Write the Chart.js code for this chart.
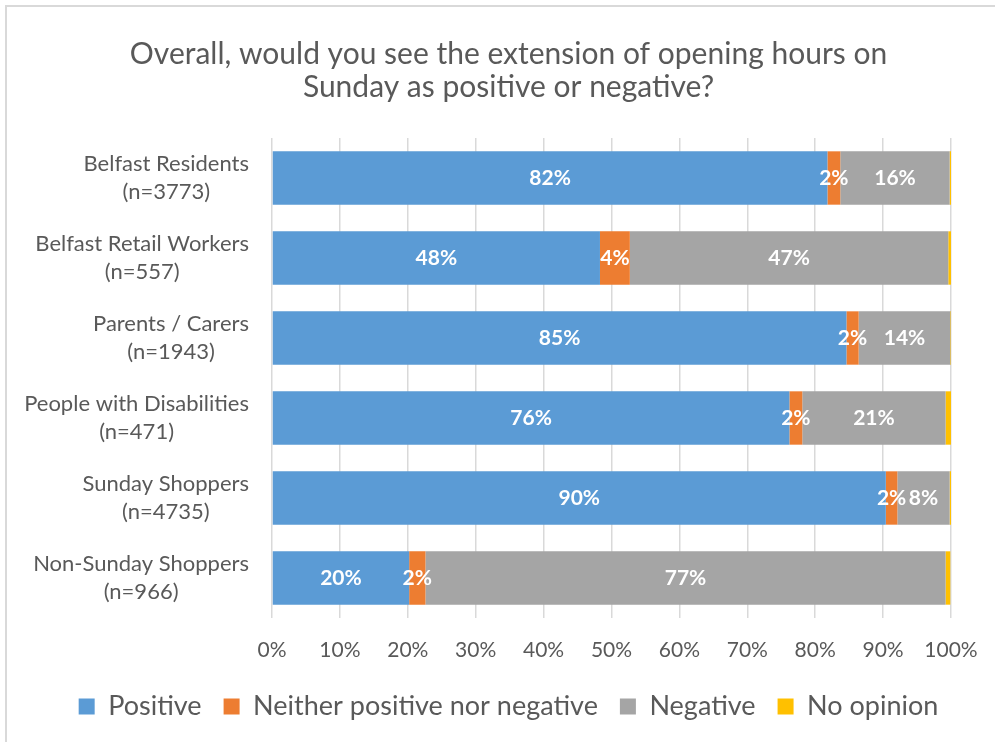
<!DOCTYPE html>
<html>
<head>
<meta charset="utf-8">
<script src="https://cdn.jsdelivr.net/npm/chart.js@4.4.1/dist/chart.umd.min.js"></script>
<style>
  html, body { margin: 0; padding: 0; background: #fff; }
  #wrap { width: 995px; height: 742px; }
</style>
</head>
<body>
<div id="wrap"><canvas id="sundayChart" width="995" height="742"></canvas></div>
<script>
/* Data */
const categories = [
  ['Belfast Residents', '(n=3773)'],
  ['Belfast Retail Workers', '(n=557)'],
  ['Parents / Carers', '(n=1943)'],
  ['People with Disabilities', '(n=471)'],
  ['Sunday Shoppers', '(n=4735)'],
  ['Non-Sunday Shoppers', '(n=966)']
];
const positive = [81.8, 48.3, 84.6, 76.2, 90.4, 20.2];
const neither = [1.9, 4.4, 1.8, 1.9, 1.7, 2.4];
const negative = [16.1, 46.9, 13.5, 21.1, 7.7, 76.6];
const noOpinion = [0.2, 0.4, 0.1, 0.8, 0.2, 0.7];
const seriesNames = ['Positive', 'Neither positive nor negative', 'Negative', 'No opinion'];
const xTicks = [0, 10, 20, 30, 40, 50, 60, 70, 80, 90, 100];

const FONT = 'Lato, "Open Sans", sans-serif';
const TEXT_GRAY = '#595959';

// Get the canvas element
const canvasSunday = document.getElementById('sundayChart');
const ctxSunday = canvasSunday.getContext('2d');

// white bold percentages in the middle of each segment (not "No opinion")
const barLabels = {
  id: 'barLabels',
  afterDatasetsDraw(chart) {
    const ctx = chart.ctx;
    ctx.save();
    ctx.font = 'bold 21px ' + FONT;
    ctx.fillStyle = '#ffffff';
    ctx.textAlign = 'center';
    ctx.textBaseline = 'middle';
    chart.data.datasets.forEach((dataset, di) => {
      if (di > 2) return;
      const meta = chart.getDatasetMeta(di);
      meta.data.forEach((bar, i) => {
        const cx = (bar.x + bar.base) / 2;
        ctx.fillText(Math.round(dataset.data[i]) + '%', cx, bar.y);
      });
    });
    ctx.restore();
  }
};

// two-line category labels, block right-aligned, lines centred in the block
const categoryLabels = {
  id: 'categoryLabels',
  afterDraw(chart) {
    const ctx = chart.ctx;
    const yScale = chart.scales.y;
    const right = chart.chartArea.left - 23;
    ctx.save();
    ctx.font = '22px ' + FONT;
    ctx.fillStyle = TEXT_GRAY;
    ctx.textAlign = 'center';
    ctx.textBaseline = 'middle';
    categories.forEach((lines, i) => {
      const y = yScale.getPixelForValue(i);
      const blockWidth = Math.max(...lines.map(l => ctx.measureText(l).width));
      const cx = right - blockWidth / 2;
      ctx.fillText(lines[0], cx, y - 14);
      ctx.fillText(lines[1], cx, y + 14);
    });
    ctx.restore();
  }
};

// light frame of the chart
const chartFrame = {
  id: 'chartFrame',
  beforeDraw(chart) {
    const ctx = chart.ctx;
    ctx.save();
    ctx.strokeStyle = '#d9d9d9';
    ctx.lineWidth = 2;
    ctx.strokeRect(6, 6, 1200, 1200);
    ctx.restore();
  }
};

const sundayChart = new Chart(ctxSunday, {
  type: 'bar',
  data: {
    labels: categories,
    datasets: [
      { label: seriesNames[0], data: positive, backgroundColor: '#5B9BD5' },
      { label: seriesNames[1], data: neither, backgroundColor: '#ED7D31' },
      { label: seriesNames[2], data: negative, backgroundColor: '#A5A5A5' },
      { label: seriesNames[3], data: noOpinion, backgroundColor: '#FFC000' }
    ]
  },
  options: {
    indexAxis: 'y',
    responsive: false,
    animation: false,
    datasets: {
      bar: {
        categoryPercentage: 1,
        barPercentage: 0.667,
        borderWidth: 0
      }
    },
    layout: {
      padding: { top: 22, left: 22, right: 0, bottom: 12 }
    },
    scales: {
      x: {
        stacked: true,
        min: 0,
        max: 100,
        afterBuildTicks: (scale) => {
          scale.ticks = xTicks.map(v => ({ value: v }));
        },
        ticks: {
          callback: (v) => v + '%',
          color: TEXT_GRAY,
          font: { family: FONT, size: 21 },
          padding: 20,
          maxRotation: 0
        },
        grid: {
          color: '#d9d9d9',
          lineWidth: 1.5,
          drawTicks: false
        },
        border: { display: false },
        afterFit: (scale) => {
          scale.height = 53;
          scale.paddingLeft = 0;
          scale.paddingRight = 0;
        }
      },
      y: {
        stacked: true,
        ticks: { display: false },
        grid: { display: false },
        border: { display: false },
        afterFit: (scale) => { scale.width = 250; }
      },
      // empty right-hand gutter
      yRight: {
        type: 'category',
        position: 'right',
        ticks: { display: false },
        grid: { display: false },
        border: { display: false },
        afterFit: (scale) => { scale.width = 44; }
      }
    },
    plugins: {
      title: {
        display: true,
        text: ['Overall, would you see the extension of opening hours on', 'Sunday as positive or negative?'],
        color: TEXT_GRAY,
        font: { family: FONT, size: 30, weight: 'normal', lineHeight: 1.1 },
        padding: { top: 16, bottom: 34 }
      },
      legend: {
        position: 'bottom',
        labels: {
          color: TEXT_GRAY,
          font: { family: FONT, size: 27 },
          boxWidth: 16,
          boxHeight: 16,
          padding: 22
        }
      },
      tooltip: { enabled: false }
    }
  },
  plugins: [chartFrame, barLabels, categoryLabels]
});
</script>
</body>
</html>
